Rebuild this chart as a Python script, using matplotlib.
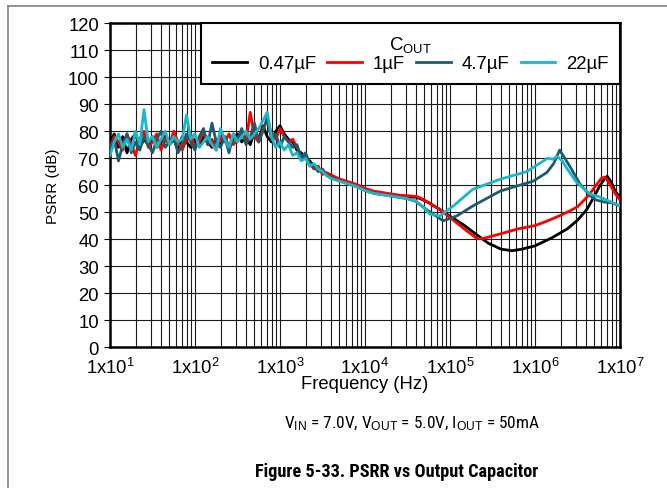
import numpy as np
import matplotlib
matplotlib.use("Agg")
import matplotlib.pyplot as plt
import matplotlib.ticker as mticker
from matplotlib import font_manager
from matplotlib.lines import Line2D

plt.rcParams["font.family"] = ["Liberation Sans", "DejaVu Sans"]
plt.rcParams["mathtext.fontset"] = "custom"
plt.rcParams["mathtext.rm"] = "Liberation Sans"
plt.rcParams["mathtext.it"] = "Liberation Sans:italic"
plt.rcParams["mathtext.bf"] = "Liberation Sans:bold"

# --- Data (log10 of frequency in Hz, PSRR in dB) ---
# shared sampling of the noisy low-frequency part, 10 Hz .. ~3 kHz
noise_logf = np.arange(1.0, 3.501, 0.05)

black_noise = [76, 79, 74, 78, 72, 77, 79, 74, 77, 75, 78, 74, 76, 79, 75, 77, 73,
               78, 76, 74, 77, 75, 78, 76, 74, 77, 75, 78, 74, 77, 79, 76, 78, 75,
               80, 77, 82, 78, 76, 80, 82, 79, 77, 76, 73, 72, 70, 69, 67, 66, 65]
red_noise = [74, 78, 76, 73, 79, 75, 71, 77, 80, 74, 76, 79, 73, 77, 75, 80, 76,
             73, 77, 79, 74, 76, 80, 75, 77, 73, 78, 76, 79, 75, 77, 80, 76, 87,
             78, 76, 81, 84, 79, 77, 81, 78, 76, 77, 74, 71, 71, 68, 66, 67, 64]
teal_noise = [73, 77, 69, 75, 79, 72, 76, 73, 78, 75, 72, 77, 80, 74, 76, 78, 72,
              75, 79, 76, 73, 78, 81, 75, 83, 76, 74, 78, 72, 79, 77, 81, 75, 78,
              83, 76, 80, 85, 77, 79, 74, 78, 76, 74, 75, 70, 72, 68, 67, 65, 66]
cyan_noise = [71, 76, 79, 74, 77, 73, 80, 75, 88, 76, 78, 74, 77, 80, 75, 78, 76,
              77, 86, 77, 79, 74, 76, 78, 75, 73, 81, 77, 74, 79, 76, 78, 80, 77,
              79, 81, 84, 87, 78, 74, 76, 73, 75, 71, 72, 69, 70, 67, 68, 66, 65]

black_tail_logf = [3.55, 3.6, 3.7, 3.8, 3.9, 4.0, 4.1, 4.2, 4.3, 4.4, 4.5, 4.6, 4.65,
                   4.75, 4.88, 5.0, 5.15, 5.32, 5.45, 5.6, 5.73, 5.85, 6.0, 6.1, 6.2,
                   6.38, 6.5, 6.61, 6.7, 6.76, 6.82, 6.85, 6.9, 6.94, 7.0]
black_tail = [64.5, 63.5, 62, 61, 60, 58.5, 57.5, 57, 56.5, 56, 55.8, 55.5, 55,
              53.5, 51, 48.5, 45.5, 41.5, 38.5, 36.3, 35.7, 36.3, 37.5, 39, 40.5,
              43.8, 47, 51, 56, 59.6, 62.5, 63.3, 61, 58, 55.5]

red_tail_logf = [3.55, 3.6, 3.7, 3.8, 3.9, 4.0, 4.1, 4.2, 4.3, 4.4, 4.5, 4.6, 4.65,
                 4.75, 4.88, 5.0, 5.1, 5.2, 5.32, 5.4, 5.6, 5.8, 6.0, 6.15, 6.3, 6.4,
                 6.5, 6.58, 6.65, 6.72, 6.78, 6.82, 6.87, 6.93, 7.0]
red_tail = [64.5, 63.8, 62.3, 61.3, 60.3, 58.8, 57.8, 57.3, 56.8, 56.3, 56.1, 55.8,
            55.3, 53.5, 51, 48, 45.5, 43, 40.2, 40.3, 42, 43.8, 45, 46.8, 48.8, 50.3,
            52, 54.5, 57, 60, 62.5, 63, 61, 57.5, 54.5]

teal_tail_logf = [3.55, 3.6, 3.7, 3.8, 3.9, 4.0, 4.1, 4.2, 4.3, 4.4, 4.5, 4.6, 4.7,
                  4.8, 4.92, 5.08, 5.27, 5.59, 5.98, 6.14, 6.22, 6.29, 6.35, 6.41,
                  6.53, 6.65, 6.72, 6.82, 6.9, 7.0]
teal_tail = [63.5, 63, 61.5, 60.5, 59.5, 58, 57, 56.5, 56, 55.5, 55, 54, 51.5,
             49.3, 46.8, 48.6, 52.3, 57.8, 61.5, 64.7, 68, 73, 70, 67,
             60.4, 56, 54.5, 53.7, 53.5, 52.3]

cyan_tail_logf = [3.55, 3.6, 3.7, 3.8, 3.9, 4.0, 4.1, 4.2, 4.3, 4.4, 4.5, 4.6, 4.7,
                  4.76, 4.88, 5.04, 5.27, 5.59, 5.9, 6.09, 6.15, 6.21, 6.26, 6.32,
                  6.38, 6.49, 6.65, 6.76, 6.88, 7.0]
cyan_tail = [63.5, 62.5, 61.5, 60.5, 59.5, 58, 57, 56.5, 56, 55.5, 55, 54, 51.5,
             49.3, 48.6, 52.3, 58.5, 62.2, 65, 68.8, 70, 69.6, 70.7, 69,
             66, 61, 56.7, 55.6, 54, 52.3]

series_labels = ["0.47\u00b5F", "1\u00b5F", "4.7\u00b5F", "22\u00b5F"]
series_colors = ["#000000", "#ff0000", "#1e5b6b", "#17b8c9"]
xtick_labels = ["1x10$^{1}$", "1x10$^{2}$", "1x10$^{3}$", "1x10$^{4}$",
                "1x10$^{5}$", "1x10$^{6}$", "1x10$^{7}$"]
yticks = list(range(0, 121, 10))

curves = [
    (black_noise, black_tail_logf, black_tail),
    (red_noise, red_tail_logf, red_tail),
    (teal_noise, teal_tail_logf, teal_tail),
    (cyan_noise, cyan_tail_logf, cyan_tail),
]


def find_condensed(bold):
    """Path of an installed condensed sans face, or None."""
    prefs = ["Liberation Sans Narrow", "Arial Narrow", "Roboto Condensed",
             "Roboto", "Noto Sans", "Open Sans Condensed", "Open Sans"]
    cond = ("condensed", "semi-condensed")
    for pref in prefs:
        for f in font_manager.fontManager.ttflist:
            if f.name != pref or f.style != "normal":
                continue
            is_cond = ("Narrow" in f.name or "Condensed" in f.name
                       or str(f.stretch) in cond)
            if not is_cond:
                continue
            w = f.weight if isinstance(f.weight, int) else \
                font_manager.weight_dict.get(str(f.weight), 400)
            if (w >= 600) == bold and (w in (400, 700) or pref != "Noto Sans"):
                return f.fname
    return None


def condensed_props(bold):
    path = find_condensed(bold)
    if path:
        return font_manager.FontProperties(fname=path)
    return font_manager.FontProperties(family="Liberation Sans",
                                       weight="bold" if bold else "normal")


# --- Figure ---
fig = plt.figure(figsize=(6.67, 4.89), dpi=100)
ax = fig.add_axes([0.1649, 0.2883, 0.7646, 0.662])

handles = []
for (noise, tail_logf, tail), color, label in zip(curves, series_colors, series_labels):
    logf = np.concatenate([noise_logf, tail_logf])
    db = np.concatenate([noise, tail])
    (h,) = ax.plot(10 ** logf, db, color=color, linewidth=2.0, label=label,
                   solid_joinstyle="round", zorder=3)
    handles.append(h)

ax.set_xscale("log")
ax.set_xlim(10, 1e7)
ax.set_ylim(0, 120)
ax.set_yticks(yticks)
ax.xaxis.set_minor_locator(mticker.LogLocator(base=10, subs=np.arange(2, 10), numticks=20))
ax.set_xticks([10 ** k for k in range(1, 8)])
ax.set_xticklabels(xtick_labels)
ax.xaxis.set_minor_formatter(mticker.NullFormatter())

ax.grid(True, which="both", axis="x", color="#1a1a1a", linewidth=0.8)
ax.grid(True, which="major", axis="y", color="#1a1a1a", linewidth=0.8)
ax.set_axisbelow(True)

for sp in ax.spines.values():
    sp.set_linewidth(1.8)
    sp.set_color("black")

ax.tick_params(axis="x", which="both", length=0, pad=7, labelsize=13.3)
ax.tick_params(axis="y", which="both", length=4, width=0.8, pad=4, labelsize=13.3)

ax.set_xlabel("Frequency (Hz)", fontsize=13.3, labelpad=-1)
ax.set_ylabel("PSRR (dB)", fontsize=11, labelpad=6)

leg = ax.legend(handles, series_labels, ncol=4, title="C$_{\\mathrm{OUT}}$",
                loc="upper right", bbox_to_anchor=(1.0, 1.0), borderaxespad=0,
                fontsize=13.4, title_fontsize=13.4, handlelength=1.85,
                handletextpad=0.6, columnspacing=0.6, borderpad=0.6,
                labelspacing=0.05, fancybox=False, framealpha=1, edgecolor="black")
leg.get_frame().set_linewidth(1.5)
for line in leg.get_lines():
    line.set_linewidth(2.0)

cond_txt = fig.text(0.617, 0.133,
                    "V$_{\\mathrm{IN}}$ = 7.0V, V$_{\\mathrm{OUT}}$ = 5.0V, I$_{\\mathrm{OUT}}$ = 50mA",
                    ha="center", va="center", fontproperties=condensed_props(False))
cap_txt = fig.text(0.594, 0.035, "Figure 5-33. PSRR vs Output Capacitor",
                   ha="center", va="center", fontproperties=condensed_props(True))

# size both lines so they take the width they have in the datasheet figure
renderer = fig.canvas.get_renderer()
for txt, target_px in ((cond_txt, 255), (cap_txt, 282)):
    txt.set_fontsize(13)
    width = txt.get_window_extent(renderer).width
    txt.set_fontsize(min(13 * target_px / width, 14))

# page frame lines (top and left)
W, H = 667, 489
fig.add_artist(Line2D([8 / W, 1.0], [1 - 7 / H, 1 - 7 / H], color="#808080", linewidth=1.2))
fig.add_artist(Line2D([8 / W, 8 / W], [0.0, 1 - 7 / H], color="#808080", linewidth=1.2))

fig.savefig("out.png", dpi=100)
